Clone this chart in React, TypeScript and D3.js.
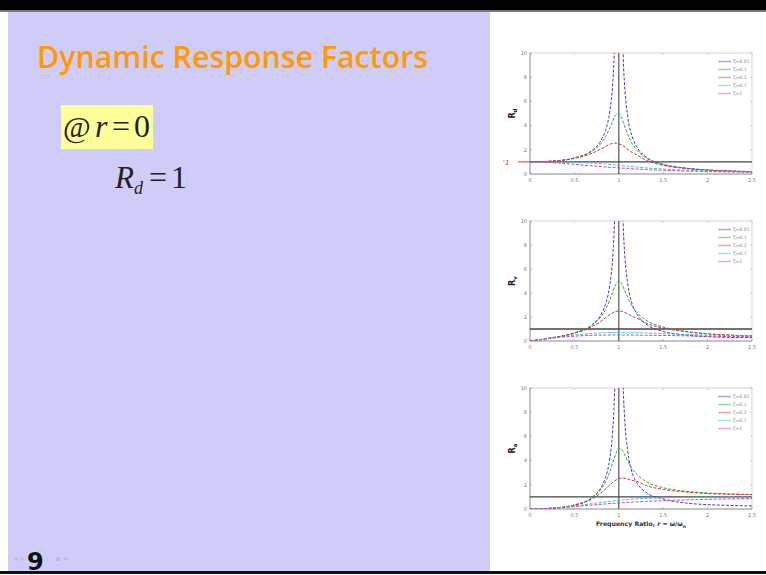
import React from "react";
import * as d3 from "d3";

// ---------- data ----------
const rValues = [0, 0.25, 0.5, 0.7, 0.8, 0.85, 0.9, 0.93, 0.95, 0.97, 1, 1.03, 1.05, 1.07, 1.1, 1.15, 1.2, 1.3, 1.5, 1.75, 2, 2.25, 2.5];
const zetaLabels = ["ζ=0.01", "ζ=0.1", "ζ=0.2", "ζ=0.7", "ζ=1"];
const xTicks = [0, 0.5, 1, 1.5, 2, 2.5];
const xTickLabels = ["0", "0.5", "1", "1.5", "2", "2.5"];
const yTicks = [0, 2, 4, 6, 8, 10];

// R_d
const rdZ001 = [1, 1.07, 1.33, 1.96, 2.78, 3.6, 5.24, 7.33, 10.07, 16.1, 50, 15.6, 9.56, 6.87, 4.75, 3.1, 2.27, 1.45, 0.8, 0.49, 0.33, 0.25, 0.19];
const rdZ01 = [1, 1.07, 1.32, 1.89, 2.54, 3.07, 3.82, 4.35, 4.68, 4.93, 5.0, 4.66, 4.28, 3.87, 3.29, 2.52, 2.0, 1.36, 0.78, 0.48, 0.33, 0.25, 0.19];
const rdZ02 = [1, 1.06, 1.29, 1.72, 2.08, 2.28, 2.46, 2.53, 2.55, 2.55, 2.5, 2.4, 2.31, 2.21, 2.05, 1.78, 1.59, 1.16, 0.72, 0.46, 0.32, 0.24, 0.19];
const rdZ07 = [1, 1.0, 0.97, 0.9, 0.85, 0.82, 0.79, 0.76, 0.75, 0.74, 0.71, 0.69, 0.68, 0.66, 0.64, 0.61, 0.58, 0.51, 0.41, 0.31, 0.24, 0.2, 0.16];
const rdZ1 = [1, 0.94, 0.8, 0.67, 0.61, 0.58, 0.55, 0.54, 0.53, 0.52, 0.5, 0.49, 0.48, 0.47, 0.45, 0.43, 0.41, 0.37, 0.31, 0.25, 0.2, 0.17, 0.14];

// R_v
const rvZ001 = [0, 0.27, 0.67, 1.37, 2.22, 3.06, 4.72, 6.8, 9.6, 15.6, 50, 15.6, 9.6, 6.9, 4.8, 3.1, 2.3, 1.45, 0.8, 0.5, 0.36, 0.3, 0.28];
const rvZ01 = [0, 0.27, 0.66, 1.32, 2.03, 2.61, 3.44, 4.05, 4.45, 4.78, 5.0, 4.8, 4.49, 4.14, 3.62, 2.9, 2.4, 1.77, 1.17, 0.8, 0.6, 0.5, 0.42];
const rvZ02 = [0, 0.27, 0.65, 1.2, 1.66, 1.94, 2.21, 2.35, 2.42, 2.47, 2.5, 2.47, 2.43, 2.36, 2.26, 2.05, 1.91, 1.51, 1.08, 0.78, 0.6, 0.48, 0.42];
const rvZ07 = [0, 0.25, 0.49, 0.63, 0.68, 0.7, 0.71, 0.71, 0.71, 0.71, 0.71, 0.71, 0.71, 0.71, 0.71, 0.7, 0.69, 0.67, 0.61, 0.55, 0.49, 0.44, 0.4];
const rvZ1 = [0, 0.24, 0.4, 0.47, 0.49, 0.49, 0.5, 0.5, 0.5, 0.5, 0.5, 0.5, 0.5, 0.5, 0.5, 0.5, 0.49, 0.48, 0.46, 0.43, 0.4, 0.37, 0.34];

// R_a
const raZ001 = [0, 0.07, 0.33, 0.96, 1.78, 2.6, 4.24, 6.35, 9.1, 15.2, 50, 16, 10, 7, 4.8, 3.0, 2.2, 1.4, 0.83, 0.5, 0.36, 0.3, 0.25];
const raZ01 = [0, 0.07, 0.33, 0.93, 1.63, 2.22, 3.09, 3.76, 4.22, 4.64, 5.0, 4.94, 4.72, 4.43, 3.98, 3.33, 2.88, 2.3, 1.76, 1.47, 1.32, 1.24, 1.19];
const raZ02 = [0, 0.07, 0.32, 0.84, 1.33, 1.65, 1.99, 2.19, 2.3, 2.4, 2.5, 2.55, 2.55, 2.53, 2.48, 2.35, 2.29, 1.96, 1.62, 1.41, 1.28, 1.22, 1.19];
const raZ07 = [0, 0.06, 0.24, 0.44, 0.54, 0.59, 0.64, 0.66, 0.68, 0.69, 0.71, 0.74, 0.75, 0.76, 0.78, 0.81, 0.83, 0.87, 0.92, 0.96, 0.98, 0.99, 0.99];
const raZ1 = [0, 0.06, 0.2, 0.33, 0.39, 0.42, 0.45, 0.46, 0.47, 0.48, 0.5, 0.51, 0.52, 0.53, 0.55, 0.57, 0.59, 0.63, 0.69, 0.75, 0.8, 0.84, 0.86];

const yLabels = ["d", "v", "a"];

// ---------- styles ----------
const seriesColors = ["#3b3bd0", "#2ea82e", "#d93030", "#2fcaca", "#cc3fcc"];
const LAVENDER = "#d0ccf8";

const charts = [
  { top: 53, bottom: 174, series: [rdZ001, rdZ01, rdZ02, rdZ07, rdZ1] },
  { top: 221, bottom: 341, series: [rvZ001, rvZ01, rvZ02, rvZ07, rvZ1] },
  { top: 388, bottom: 509, series: [raZ001, raZ01, raZ02, raZ07, raZ1] },
];

const X0 = 530;
const X1 = 752;

function Chart({ idx }: { idx: number }) {
  const c = charts[idx];
  const x = d3.scaleLinear().domain([0, 2.5]).range([X0, X1]);
  const y = d3.scaleLinear().domain([0, 10]).range([c.bottom, c.top]);
  const line = d3
    .line<[number, number]>()
    .x((d) => x(d[0]))
    .y((d) => y(d[1]))
    .curve(d3.curveMonotoneX);
  const clipId = `clip${idx}`;
  const tickFont = { fontFamily: "DejaVu Sans, sans-serif", fontSize: 5, fill: "#777" };
  return (
    <g>
      <defs>
        <clipPath id={clipId}>
          <rect x={X0} y={c.top} width={X1 - X0} height={c.bottom - c.top} />
        </clipPath>
      </defs>
      <rect x={X0} y={c.top} width={X1 - X0} height={c.bottom - c.top} fill="#fff" stroke="#c9c9c9" strokeWidth={0.8} />
      {xTicks.map((t, i) => (
        <g key={"xt" + i}>
          <line x1={x(t)} x2={x(t)} y1={c.bottom} y2={c.bottom - 2} stroke="#999" strokeWidth={0.6} />
          <line x1={x(t)} x2={x(t)} y1={c.top} y2={c.top + 2} stroke="#bbb" strokeWidth={0.6} />
          <text x={x(t)} y={c.bottom + 8} textAnchor="middle" {...tickFont}>
            {xTickLabels[i]}
          </text>
        </g>
      ))}
      {yTicks.map((t, i) => (
        <g key={"yt" + i}>
          <line x1={X0} x2={X0 + 2} y1={y(t)} y2={y(t)} stroke="#999" strokeWidth={0.6} />
          <line x1={X1} x2={X1 - 2} y1={y(t)} y2={y(t)} stroke="#bbb" strokeWidth={0.6} />
          <text x={X0 - 3} y={y(t) + 1.8} textAnchor="end" {...tickFont}>
            {t}
          </text>
        </g>
      ))}
      <line x1={X0} x2={X0} y1={c.top} y2={c.bottom} stroke="#8a8a8a" strokeWidth={0.8} />
      <line x1={X0} x2={X1} y1={c.bottom} y2={c.bottom} stroke="#8a8a8a" strokeWidth={0.8} />
      <line x1={x(1)} x2={x(1)} y1={c.top} y2={c.bottom} stroke="#555" strokeWidth={1.2} />
      <line x1={X0} x2={X1} y1={y(1)} y2={y(1)} stroke="#444" strokeWidth={1.3} />
      <g clipPath={`url(#${clipId})`}>
        {c.series.map((s, si) => (
          <path
            key={si}
            d={line(rValues.map((r, k) => [r, s[k]] as [number, number])) || ""}
            fill="none"
            stroke={seriesColors[si]}
            strokeWidth={1}
            strokeDasharray="3 1.6"
          />
        ))}
      </g>
      {zetaLabels.map((lab, i) => {
        const ly = c.top + 8.5 + i * 8;
        return (
          <g key={"lg" + i}>
            <line x1={718} x2={731} y1={ly} y2={ly} stroke={seriesColors[i]} strokeWidth={1.5} opacity={0.45} />
            <text x={733} y={ly + 1.7} fontFamily="DejaVu Sans, sans-serif" fontSize={4.6} fill="#888">
              {lab}
            </text>
          </g>
        );
      })}
      <text
        transform={`translate(515, ${(c.top + c.bottom) / 2}) rotate(-90)`}
        textAnchor="middle"
        fontFamily="DejaVu Sans, sans-serif"
        fontWeight="bold"
        fontSize={8}
        fill="#222"
      >
        R
        <tspan fontSize={5.5} dy={2}>
          {yLabels[idx]}
        </tspan>
      </text>
      {idx === 0 && (
        <g>
          <line x1={518} x2={X0} y1={y(1)} y2={y(1)} stroke="#e03030" strokeWidth={1} />
          <text x={503} y={y(1) + 3} fontFamily="DejaVu Sans, sans-serif" fontStyle="italic" fontSize={7} fill="#e03030">
            '1
          </text>
        </g>
      )}
      {idx === 2 && (
        <text
          x={641}
          y={526}
          textAnchor="middle"
          fontFamily="DejaVu Sans, sans-serif"
          fontWeight="bold"
          fontSize={6.2}
          fill="#333"
        >
          Frequency Ratio, <tspan fontStyle="italic">r</tspan> = ω/ω
          <tspan fontSize={4.5} dy={1.5}>n</tspan>
        </text>
      )}
    </g>
  );
}

export default function App() {
  return (
    <svg
      width={766}
      height={575}
      viewBox="0 0 766 575"
      style={{ position: "absolute", left: 0, top: 0, display: "block" }}
    >
      <rect x={0} y={0} width={766} height={575} fill="#fff" />
      <rect x={8} y={12} width={482} height={560} fill={LAVENDER} />
      <rect x={490} y={12} width={276} height={560} fill="#fff" />
      <rect x={0} y={0} width={766} height={10} fill="#000" />
      <rect x={0} y={10} width={766} height={2} fill="#777" />

      <text
        x={37}
        y={68}
        fontFamily="Open Sans, sans-serif"
        fontWeight={600}
        fontSize={30}
        fill="#ff9a00"
        textLength={391}
        lengthAdjust="spacingAndGlyphs"
      >
        Dynamic Response Factors
      </text>

      {/* @ r = 0 */}
      <rect x={61} y={105} width={92} height={44} fill="#ffff99" />
      <text x={63} y={137} fontFamily="Liberation Serif, serif" fontSize={30} fill="#222">
        @
      </text>
      <text y={137} fontFamily="Liberation Serif, serif" fontSize={32} fill="#222">
        <tspan x={95} fontStyle="italic">r</tspan>
        <tspan x={112}>=</tspan>
        <tspan x={134}>0</tspan>
      </text>

      {/* R_d = 1 */}
      <text x={115} y={188} fontFamily="Liberation Serif, serif" fontStyle="italic" fontSize={31} fill="#222">
        R
      </text>
      <text x={134} y={194} fontFamily="Liberation Serif, serif" fontStyle="italic" fontSize={18} fill="#222">
        d
      </text>
      <text y={188} fontFamily="Liberation Serif, serif" fontSize={32} fill="#222">
        <tspan x={149}>=</tspan>
        <tspan x={171}>1</tspan>
      </text>

      <Chart idx={0} />
      <Chart idx={1} />
      <Chart idx={2} />

      <text x={14} y={561} fontFamily="DejaVu Sans, sans-serif" fontSize={8} fill="#bdb9e6">
        ◂ ▸
      </text>
      <text x={55} y={561} fontFamily="DejaVu Sans, sans-serif" fontSize={8} fill="#bdb9e6">
        ▪ ◂
      </text>

      <rect x={0} y={571} width={766} height={3} fill="#111" />
      <rect x={0} y={574} width={766} height={1} fill="#fff" />
      <text x={27} y={570} fontFamily="DejaVu Sans, sans-serif" fontWeight="bold" fontSize={24} fill="#111">
        9
      </text>
    </svg>
  );
}
